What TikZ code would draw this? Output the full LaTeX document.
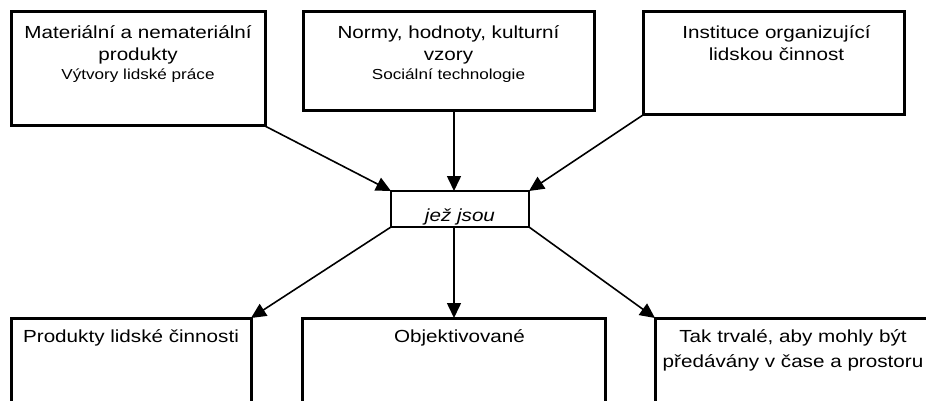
\documentclass[tikz,border=0pt]{standalone}
\usepackage{fontspec}
\setmainfont{Liberation Sans}[FakeStretch=1.18]
\usetikzlibrary{arrows.meta, positioning}
\newcommand{\bigtext}{\fontsize{17.5}{22}\selectfont}
\newcommand{\smalltext}{\fontsize{14.5}{18}\selectfont}
\tikzset{>={Triangle[length=15pt,width=14pt]},
    box/.style={draw, line width=3pt, outer sep=0pt, inner sep=0pt},
    midbox/.style={draw, line width=1.3pt, outer sep=0pt, inner sep=0pt,
        minimum width=138pt, minimum height=36pt},
    boxtext/.style={align=center, inner sep=0pt, anchor=north, font=\bigtext},
    link/.style={->, line width=1.6pt}}

\begin{document}
\begin{tikzpicture}[x=1pt,y=-1pt]
\useasboundingbox (0,0) rectangle (926,401);
\clip (0,0) rectangle (926,401);
\node[box, minimum width=254pt, minimum height=114pt] (prod) at (138,69) {};
\node[box, minimum width=291pt, minimum height=99pt]  (norm) at (448.5,61.5) {};
\node[box, minimum width=261pt, minimum height=103pt] (inst) at (773.5,63.5) {};
\node[midbox] (mid) at (460,209) {};
\node[box, minimum width=240pt, minimum height=112pt] (lids) at (131,374) {};
\node[box, minimum width=303pt, minimum height=112pt] (obj)  at (453.5,374) {};
\node[box, minimum width=276pt, minimum height=112pt] (trv)  at (793,374) {};

\node[boxtext] (prodtxt) at ([yshift=-13pt]prod.north)
    {Materiální a nemateriální\\produkty\\[-3pt]{\smalltext Výtvory lidské práce}};
\node[boxtext] (normtxt) at ([yshift=-13pt]norm.north)
    {Normy, hodnoty, kulturní\\vzory\\[-3pt]{\smalltext Sociální technologie}};
\node[boxtext] (insttxt) at ([xshift=3pt,yshift=-13pt]inst.north)
    {Instituce organizující\\lidskou činnost};
\node[inner sep=0pt, anchor=base, font=\bigtext\itshape] (midtxt)
    at ([yshift=-12pt]mid.center) {jež jsou};
\node[boxtext] (lidstxt) at ([yshift=-11.5pt]lids.north) {Produkty lidské činnosti};
\node[boxtext] (objtxt)  at ([xshift=6pt,yshift=-11.5pt]obj.north) {Objektivované};
\node[boxtext, font=\fontsize{17.5}{24.5}\selectfont] (trvtxt) at ([yshift=-11.5pt]trv.north)
    {Tak trvalé, aby mohly být\\předávány v čase a prostoru};

\coordinate (midtop) at ([xshift=-6pt]mid.north);
\coordinate (midbot) at ([xshift=-6pt]mid.south);
\draw[link] (prod.south east) -- (mid.north west);
\draw[link] (norm.south -| midtop) -- (midtop);
\draw[link] (inst.south west) -- (mid.north east);
\draw[link] (mid.south west) -- (lids.north east);
\draw[link] (midbot) -- (midbot |- obj.north);
\draw[link] (mid.south east) -- (trv.north west);
\end{tikzpicture}
\end{document}
